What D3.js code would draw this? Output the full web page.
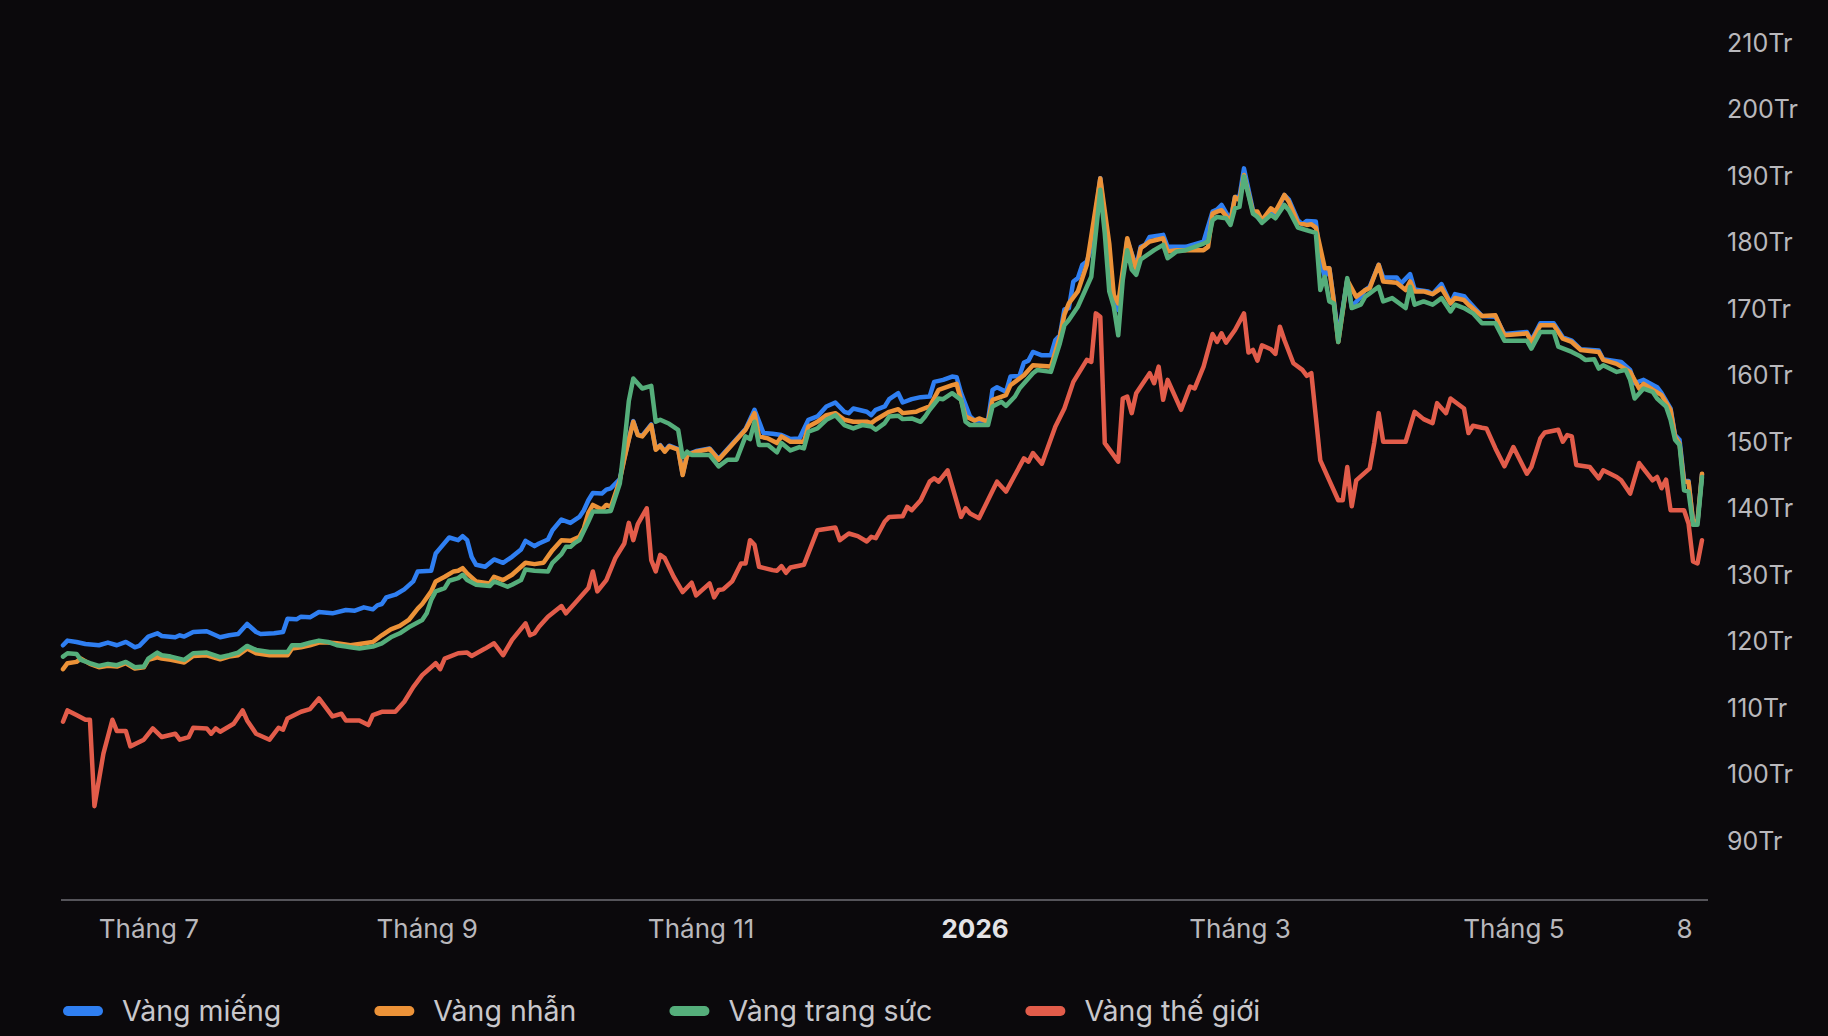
<!DOCTYPE html>
<html>
<head>
<meta charset="utf-8">
<script src="https://cdn.jsdelivr.net/npm/d3@7"></script>
<style>
  html, body { margin: 0; padding: 0; background: #0b090c; }
  svg { display: block; font-family: Inter, "Open Sans", "DejaVu Sans", sans-serif; }
</style>
</head>
<body>
<div id="chart"></div>
<script>
// giá vàng (triệu đồng / lượng)
const vangMieng = [
  ["2025-06-12",119.3],["2025-06-13",120.0],["2025-06-15",119.8],["2025-06-17",119.5],["2025-06-20",119.3],["2025-06-22",119.7],["2025-06-24",119.3],["2025-06-26",119.8],["2025-06-28",119.0],["2025-06-29",119.2],
  ["2025-07-01",120.6],["2025-07-03",121.1],["2025-07-04",120.7],["2025-07-07",120.5],["2025-07-08",120.8],["2025-07-09",120.6],["2025-07-11",121.3],["2025-07-14",121.4],["2025-07-17",120.5],["2025-07-19",120.8],["2025-07-21",121.0],["2025-07-23",122.5],["2025-07-25",121.3],["2025-07-26",121.0],["2025-07-29",121.1],["2025-07-31",121.3],
  ["2025-08-01",123.3],["2025-08-03",123.2],["2025-08-04",123.6],["2025-08-06",123.5],["2025-08-08",124.3],["2025-08-11",124.1],["2025-08-14",124.6],["2025-08-16",124.5],["2025-08-18",125.0],["2025-08-20",124.7],["2025-08-21",125.3],["2025-08-22",125.5],["2025-08-23",126.5],["2025-08-25",126.9],["2025-08-27",127.7],["2025-08-29",128.9],["2025-08-30",130.4],
  ["2025-09-02",130.5],["2025-09-03",133.1],["2025-09-04",133.9],["2025-09-06",135.5],["2025-09-08",135.1],["2025-09-09",135.7],["2025-09-10",135.1],["2025-09-11",132.6],["2025-09-12",131.4],["2025-09-14",131.1],["2025-09-16",132.2],["2025-09-18",131.7],["2025-09-20",132.6],["2025-09-22",133.7],["2025-09-23",135.0],["2025-09-25",134.2],["2025-09-26",134.6],["2025-09-28",135.2],["2025-09-29",136.6],
  ["2025-10-01",138.2],["2025-10-03",137.7],["2025-10-05",138.6],["2025-10-06",139.6],["2025-10-07",141.1],["2025-10-08",142.2],["2025-10-10",142.1],["2025-10-11",142.7],["2025-10-12",142.9],["2025-10-14",144.3],["2025-10-15",147.4],["2025-10-16",150.3],["2025-10-17",153.0],["2025-10-18",151.0],["2025-10-19",150.8],["2025-10-21",152.5],["2025-10-22",148.8],["2025-10-23",149.4],["2025-10-24",148.5],["2025-10-25",149.3],["2025-10-27",148.8],["2025-10-28",145.0],["2025-10-29",148.0],["2025-10-31",148.5],
  ["2025-11-03",148.9],["2025-11-05",147.3],["2025-11-11",151.8],["2025-11-13",154.7],["2025-11-15",151.2],["2025-11-17",151.1],["2025-11-19",150.9],["2025-11-21",150.3],["2025-11-23",150.4],["2025-11-25",153.2],["2025-11-27",153.7],["2025-11-29",155.2],
  ["2025-12-01",155.8],["2025-12-03",154.4],["2025-12-04",154.2],["2025-12-05",154.9],["2025-12-08",154.4],["2025-12-09",153.9],["2025-12-10",154.7],["2025-12-12",155.2],["2025-12-13",156.3],["2025-12-15",157.2],["2025-12-16",155.8],["2025-12-18",156.3],["2025-12-20",156.6],["2025-12-22",156.7],["2025-12-23",158.9],["2025-12-25",159.2],["2025-12-27",159.7],["2025-12-28",159.6],["2025-12-29",157.2],["2025-12-31",153.7],
  ["2026-01-01",153.1],["2026-01-04",153.1],["2026-01-05",157.7],["2026-01-06",158.1],["2026-01-08",157.4],["2026-01-09",159.7],["2026-01-11",159.8],["2026-01-12",161.8],["2026-01-13",162.1],["2026-01-14",163.4],["2026-01-16",162.9],["2026-01-18",162.9],["2026-01-19",165.2],["2026-01-20",165.9],["2026-01-21",169.8],["2026-01-22",170.0],["2026-01-23",174.0],["2026-01-24",174.5],["2026-01-25",176.5],["2026-01-26",177.0],["2026-01-27",179.0],["2026-01-29",189.5],["2026-01-31",176.2],
  ["2026-02-01",171.8],["2026-02-02",169.7],["2026-02-04",180.2],["2026-02-06",176.2],["2026-02-07",179.2],["2026-02-08",179.5],["2026-02-09",180.7],["2026-02-12",181.0],["2026-02-13",179.2],["2026-02-15",179.2],["2026-02-17",179.2],["2026-02-21",180.0],["2026-02-23",184.5],["2026-02-24",184.8],["2026-02-25",185.5],["2026-02-27",183.2],["2026-02-28",186.7],
  ["2026-03-01",186.7],["2026-03-02",191.0],["2026-03-04",184.7],["2026-03-05",183.7],["2026-03-06",183.0],["2026-03-08",184.7],["2026-03-09",184.0],["2026-03-11",187.0],["2026-03-12",186.3],["2026-03-14",183.2],["2026-03-15",182.6],["2026-03-16",183.1],["2026-03-18",183.0],["2026-03-19",177.0],["2026-03-20",174.7],["2026-03-21",176.0],["2026-03-22",171.2],["2026-03-23",165.7],["2026-03-25",174.2],["2026-03-26",170.2],["2026-03-28",171.7],["2026-03-29",172.7],["2026-03-30",173.2],
  ["2026-04-01",176.5],["2026-04-02",174.6],["2026-04-05",174.6],["2026-04-06",173.7],["2026-04-08",175.1],["2026-04-09",172.8],["2026-04-12",172.5],["2026-04-13",172.1],["2026-04-15",173.6],["2026-04-17",170.7],["2026-04-18",172.1],["2026-04-20",171.8],["2026-04-21",171.0],["2026-04-24",168.8],["2026-04-27",168.7],["2026-04-29",166.1],
  ["2026-05-04",166.4],["2026-05-05",165.1],["2026-05-07",167.7],["2026-05-10",167.7],["2026-05-12",165.6],["2026-05-14",165.1],["2026-05-16",163.8],["2026-05-20",163.6],["2026-05-21",162.3],["2026-05-25",161.9],["2026-05-27",160.7],["2026-05-28",158.7],["2026-05-30",159.2],
  ["2026-06-02",158.1],["2026-06-03",157.2],["2026-06-05",154.9],["2026-06-06",150.9],["2026-06-07",150.2],["2026-06-08",144.1],["2026-06-09",144.0],["2026-06-10",137.9],["2026-06-11",137.9],["2026-06-12",145.0]
];

const vangNhan = [
  ["2025-06-12",115.7],["2025-06-13",116.6],["2025-06-15",116.8],["2025-06-16",117.3],["2025-06-18",116.5],["2025-06-20",116.0],["2025-06-22",116.2],["2025-06-24",116.1],["2025-06-26",116.6],["2025-06-28",115.8],["2025-06-30",116.0],
  ["2025-07-01",117.1],["2025-07-03",117.5],["2025-07-04",117.3],["2025-07-06",117.1],["2025-07-09",116.7],["2025-07-11",117.7],["2025-07-14",117.8],["2025-07-17",117.2],["2025-07-19",117.6],["2025-07-21",117.8],["2025-07-23",118.8],["2025-07-25",118.1],["2025-07-28",117.8],
  ["2025-08-01",117.8],["2025-08-02",118.8],["2025-08-04",119.0],["2025-08-06",119.3],["2025-08-08",119.7],["2025-08-10",119.7],["2025-08-12",119.6],["2025-08-15",119.3],["2025-08-17",119.5],["2025-08-20",119.8],["2025-08-22",120.8],["2025-08-24",121.7],["2025-08-26",122.2],["2025-08-28",123.1],["2025-08-30",124.8],["2025-08-31",125.5],
  ["2025-09-02",127.4],["2025-09-03",128.9],["2025-09-05",129.6],["2025-09-07",130.4],["2025-09-08",130.5],["2025-09-09",130.9],["2025-09-10",130.1],["2025-09-12",128.9],["2025-09-15",128.6],["2025-09-16",129.6],["2025-09-18",129.1],["2025-09-20",129.9],["2025-09-22",131.1],["2025-09-23",131.7],["2025-09-25",131.5],["2025-09-27",131.7],["2025-09-29",133.6],
  ["2025-10-01",135.1],["2025-10-03",135.0],["2025-10-05",135.6],["2025-10-06",136.9],["2025-10-07",139.2],["2025-10-08",140.4],["2025-10-10",139.7],["2025-10-11",140.4],["2025-10-12",140.1],["2025-10-14",144.1],["2025-10-15",147.3],["2025-10-16",150.2],["2025-10-17",152.9],["2025-10-18",150.9],["2025-10-19",150.7],["2025-10-21",152.4],["2025-10-22",148.7],["2025-10-23",149.3],["2025-10-24",148.4],["2025-10-25",149.2],["2025-10-27",148.7],["2025-10-28",144.9],["2025-10-29",147.9],["2025-10-31",148.4],
  ["2025-11-03",148.8],["2025-11-05",147.2],["2025-11-11",151.7],["2025-11-13",154.2],["2025-11-14",150.7],["2025-11-16",150.4],["2025-11-18",149.7],["2025-11-19",150.7],["2025-11-21",149.9],["2025-11-24",149.9],["2025-11-25",152.2],["2025-11-27",152.9],["2025-11-29",153.9],
  ["2025-12-01",154.2],["2025-12-03",153.2],["2025-12-05",152.9],["2025-12-08",152.9],["2025-12-09",152.7],["2025-12-10",153.2],["2025-12-13",154.4],["2025-12-15",154.8],["2025-12-16",154.2],["2025-12-19",154.4],["2025-12-20",154.7],["2025-12-22",155.2],["2025-12-24",157.7],["2025-12-27",158.4],["2025-12-28",158.6],["2025-12-30",153.7],
  ["2026-01-01",153.1],["2026-01-02",153.4],["2026-01-04",152.9],["2026-01-05",156.2],["2026-01-08",156.9],["2026-01-09",158.4],["2026-01-12",159.9],["2026-01-14",161.4],["2026-01-18",161.2],["2026-01-20",165.7],["2026-01-21",169.0],["2026-01-22",170.7],["2026-01-24",172.5],["2026-01-26",176.5],["2026-01-29",189.5],["2026-01-31",179.7],
  ["2026-02-01",172.0],["2026-02-02",170.7],["2026-02-04",180.5],["2026-02-06",175.7],["2026-02-07",179.0],["2026-02-09",180.0],["2026-02-12",180.5],["2026-02-13",178.5],["2026-02-15",178.7],["2026-02-21",178.7],["2026-02-22",179.2],["2026-02-23",184.2],["2026-02-24",184.5],["2026-02-25",184.7],["2026-02-27",183.0],["2026-02-28",186.7],
  ["2026-03-01",186.2],["2026-03-02",190.0],["2026-03-04",184.5],["2026-03-05",184.5],["2026-03-06",183.2],["2026-03-08",185.0],["2026-03-09",184.5],["2026-03-11",187.0],["2026-03-12",186.0],["2026-03-14",182.8],["2026-03-16",182.5],["2026-03-17",182.6],["2026-03-18",182.1],["2026-03-20",176.0],["2026-03-21",176.0],["2026-03-22",171.0],["2026-03-23",164.9],["2026-03-25",174.2],["2026-03-27",171.7],["2026-03-29",172.7],["2026-03-30",173.0],
  ["2026-04-01",176.5],["2026-04-02",174.0],["2026-04-05",173.8],["2026-04-07",172.7],["2026-04-08",174.0],["2026-04-09",172.5],["2026-04-11",172.5],["2026-04-13",172.1],["2026-04-15",173.0],["2026-04-17",170.7],["2026-04-18",171.5],["2026-04-20",171.2],["2026-04-21",170.5],["2026-04-24",168.8],["2026-04-27",168.9],["2026-04-29",165.9],
  ["2026-05-04",166.2],["2026-05-05",164.9],["2026-05-07",167.4],["2026-05-10",167.4],["2026-05-12",165.4],["2026-05-14",164.9],["2026-05-16",163.7],["2026-05-20",163.4],["2026-05-21",162.2],["2026-05-24",161.6],["2026-05-27",160.4],["2026-05-29",157.9],["2026-05-30",158.6],
  ["2026-06-03",156.9],["2026-06-05",154.7],["2026-06-06",150.7],["2026-06-07",149.6],["2026-06-08",143.9],["2026-06-09",143.9],["2026-06-10",137.9],["2026-06-11",137.9],["2026-06-12",145.1]
];

const vangTrangSuc = [
  ["2025-06-12",117.6],["2025-06-13",118.1],["2025-06-15",118.0],["2025-06-16",117.1],["2025-06-18",116.6],["2025-06-20",116.2],["2025-06-22",116.5],["2025-06-24",116.3],["2025-06-26",116.8],["2025-06-28",116.0],["2025-06-30",116.1],
  ["2025-07-01",117.3],["2025-07-03",118.2],["2025-07-04",117.8],["2025-07-06",117.6],["2025-07-09",117.1],["2025-07-11",118.1],["2025-07-14",118.2],["2025-07-17",117.5],["2025-07-19",117.8],["2025-07-21",118.2],["2025-07-23",119.2],["2025-07-25",118.6],["2025-07-28",118.3],
  ["2025-08-01",118.3],["2025-08-02",119.3],["2025-08-04",119.3],["2025-08-06",119.7],["2025-08-08",120.0],["2025-08-10",119.8],["2025-08-12",119.3],["2025-08-14",119.1],["2025-08-15",119.0],["2025-08-17",118.8],["2025-08-20",119.1],["2025-08-22",119.6],["2025-08-24",120.5],["2025-08-26",121.1],["2025-08-28",122.0],["2025-08-31",123.1],
  ["2025-09-01",124.1],["2025-09-02",126.1],["2025-09-03",127.4],["2025-09-05",127.9],["2025-09-06",129.0],["2025-09-08",129.4],["2025-09-09",129.9],["2025-09-10",129.1],["2025-09-12",128.4],["2025-09-15",128.2],["2025-09-16",128.9],["2025-09-19",128.1],["2025-09-20",128.4],["2025-09-22",129.1],["2025-09-23",130.7],["2025-09-25",130.5],["2025-09-28",130.4],["2025-09-29",131.7],
  ["2025-10-01",133.0],["2025-10-02",134.1],["2025-10-03",134.1],["2025-10-04",134.7],["2025-10-05",135.1],["2025-10-07",137.9],["2025-10-08",139.4],["2025-10-11",139.4],["2025-10-12",139.5],["2025-10-14",143.6],["2025-10-15",149.5],["2025-10-16",156.0],["2025-10-17",159.4],["2025-10-19",157.9],["2025-10-21",158.3],["2025-10-22",152.9],["2025-10-23",153.2],["2025-10-25",152.6],["2025-10-27",151.7],["2025-10-28",147.6],["2025-10-29",148.4],["2025-10-30",147.9],
  ["2025-11-03",147.9],["2025-11-05",146.2],["2025-11-07",147.2],["2025-11-09",147.2],["2025-11-11",150.7],["2025-11-12",150.3],["2025-11-13",152.9],["2025-11-14",149.4],["2025-11-16",149.4],["2025-11-18",148.3],["2025-11-19",149.7],["2025-11-21",148.6],["2025-11-23",149.1],["2025-11-24",148.9],["2025-11-25",151.4],["2025-11-27",151.9],["2025-11-29",153.2],
  ["2025-12-01",153.9],["2025-12-03",152.4],["2025-12-05",151.9],["2025-12-07",152.4],["2025-12-09",152.2],["2025-12-10",151.7],["2025-12-12",152.7],["2025-12-13",153.7],["2025-12-15",153.8],["2025-12-16",153.3],["2025-12-18",153.4],["2025-12-20",152.9],["2025-12-21",153.7],["2025-12-22",154.7],["2025-12-24",156.4],["2025-12-25",156.3],["2025-12-27",157.2],["2025-12-29",156.2],["2025-12-30",152.9],["2025-12-31",152.4],
  ["2026-01-04",152.4],["2026-01-05",155.2],["2026-01-07",155.9],["2026-01-08",155.3],["2026-01-10",156.7],["2026-01-11",157.9],["2026-01-14",160.2],["2026-01-15",160.7],["2026-01-18",160.4],["2026-01-20",164.7],["2026-01-21",167.4],["2026-01-22",168.2],["2026-01-24",170.2],["2026-01-25",171.7],["2026-01-27",174.7],["2026-01-29",187.8],["2026-01-30",181.2],["2026-01-31",172.5],
  ["2026-02-01",170.2],["2026-02-02",165.9],["2026-02-03",174.2],["2026-02-04",178.7],["2026-02-05",175.8],["2026-02-06",175.0],["2026-02-07",177.3],["2026-02-10",178.7],["2026-02-12",179.5],["2026-02-13",177.5],["2026-02-15",178.5],["2026-02-17",178.7],["2026-02-21",179.7],["2026-02-22",180.0],["2026-02-23",183.2],["2026-02-24",183.7],["2026-02-26",183.5],["2026-02-27",182.5],["2026-02-28",185.0],
  ["2026-03-01",185.2],["2026-03-02",189.8],["2026-03-04",184.2],["2026-03-05",183.7],["2026-03-06",182.8],["2026-03-08",184.0],["2026-03-09",183.5],["2026-03-11",185.5],["2026-03-12",184.7],["2026-03-14",182.1],["2026-03-16",181.7],["2026-03-17",181.5],["2026-03-18",181.3],["2026-03-19",172.7],["2026-03-20",174.7],["2026-03-21",171.0],["2026-03-22",170.7],["2026-03-23",164.9],["2026-03-25",174.5],["2026-03-26",170.0],["2026-03-28",170.5],["2026-03-29",171.7],["2026-03-30",172.2],
  ["2026-04-01",173.2],["2026-04-02",171.0],["2026-04-04",171.5],["2026-04-07",170.0],["2026-04-08",173.2],["2026-04-09",170.5],["2026-04-11",171.0],["2026-04-13",170.5],["2026-04-15",171.5],["2026-04-17",169.5],["2026-04-18",170.5],["2026-04-20",170.0],["2026-04-22",169.2],["2026-04-24",167.7],["2026-04-27",167.7],["2026-04-29",165.1],
  ["2026-05-04",165.1],["2026-05-05",163.9],["2026-05-07",166.4],["2026-05-10",166.4],["2026-05-11",164.2],["2026-05-14",163.4],["2026-05-16",162.7],["2026-05-17",162.2],["2026-05-19",162.3],["2026-05-20",160.9],["2026-05-21",161.4],["2026-05-24",160.4],["2026-05-26",160.7],["2026-05-27",159.2],["2026-05-28",156.4],["2026-05-30",157.9],
  ["2026-06-01",157.4],["2026-06-02",156.4],["2026-06-04",155.2],["2026-06-05",153.2],["2026-06-06",150.2],["2026-06-07",149.4],["2026-06-08",142.6],["2026-06-09",142.4],["2026-06-10",137.4],["2026-06-11",137.4],["2026-06-12",144.6]
];

const vangTheGioi = [
  ["2025-06-12",107.8],["2025-06-13",109.5],["2025-06-15",108.8],["2025-06-17",108.1],["2025-06-18",108.1],["2025-06-19",95.1],["2025-06-21",103.0],["2025-06-23",108.1],["2025-06-24",106.4],["2025-06-26",106.4],["2025-06-27",104.1],["2025-06-30",105.1],
  ["2025-07-02",106.8],["2025-07-04",105.5],["2025-07-07",106.0],["2025-07-08",105.1],["2025-07-10",105.5],["2025-07-11",106.9],["2025-07-14",106.8],["2025-07-15",106.0],["2025-07-16",106.8],["2025-07-17",106.3],["2025-07-20",107.5],["2025-07-22",109.5],["2025-07-23",108.0],["2025-07-25",106.0],["2025-07-28",105.1],["2025-07-30",106.9],["2025-07-31",106.6],
  ["2025-08-01",108.3],["2025-08-04",109.3],["2025-08-06",109.7],["2025-08-08",111.3],["2025-08-11",108.6],["2025-08-13",109.0],["2025-08-14",108.0],["2025-08-17",108.0],["2025-08-19",107.3],["2025-08-20",108.8],["2025-08-22",109.3],["2025-08-25",109.3],["2025-08-27",110.8],["2025-08-29",113.0],["2025-08-31",114.8],
  ["2025-09-03",116.6],["2025-09-04",115.7],["2025-09-05",117.3],["2025-09-08",118.1],["2025-09-10",118.2],["2025-09-11",117.7],["2025-09-14",118.8],["2025-09-16",119.6],["2025-09-18",117.8],["2025-09-20",120.1],["2025-09-23",122.6],["2025-09-24",120.8],["2025-09-25",121.1],["2025-09-26",122.1],["2025-09-28",123.6],
  ["2025-10-01",125.2],["2025-10-02",124.1],["2025-10-04",125.6],["2025-10-07",127.9],["2025-10-08",130.4],["2025-10-09",127.4],["2025-10-11",129.1],["2025-10-13",132.4],["2025-10-15",134.6],["2025-10-16",137.7],["2025-10-17",135.1],["2025-10-18",137.5],["2025-10-20",139.9],["2025-10-21",132.1],["2025-10-22",130.4],["2025-10-23",132.9],["2025-10-24",132.4],["2025-10-26",129.6],["2025-10-28",127.3],["2025-10-30",128.7],["2025-10-31",126.8],
  ["2025-11-03",128.6],["2025-11-04",126.5],["2025-11-05",127.6],["2025-11-06",127.7],["2025-11-08",128.9],["2025-11-10",131.6],["2025-11-11",131.6],["2025-11-12",135.1],["2025-11-13",134.4],["2025-11-14",131.1],["2025-11-17",130.6],["2025-11-18",130.5],["2025-11-19",131.2],["2025-11-20",130.2],["2025-11-21",131.0],["2025-11-24",131.4],["2025-11-27",136.6],
  ["2025-12-01",137.0],["2025-12-02",135.1],["2025-12-04",136.1],["2025-12-06",135.7],["2025-12-08",134.9],["2025-12-09",135.6],["2025-12-10",135.4],["2025-12-12",137.9],["2025-12-13",138.6],["2025-12-16",138.7],["2025-12-17",140.1],["2025-12-18",139.6],["2025-12-20",141.1],["2025-12-22",143.9],["2025-12-23",144.4],["2025-12-24",143.9],["2025-12-26",145.6],["2025-12-29",138.6],["2025-12-30",139.9],["2025-12-31",139.1],
  ["2026-01-02",138.4],["2026-01-06",143.9],["2026-01-08",142.4],["2026-01-12",147.4],["2026-01-13",146.9],["2026-01-14",148.2],["2026-01-16",146.6],["2026-01-19",152.2],["2026-01-21",154.9],["2026-01-22",156.9],["2026-01-23",158.9],["2026-01-26",162.2],["2026-01-27",161.9],["2026-01-28",169.2],["2026-01-29",168.7],["2026-01-30",149.7],
  ["2026-02-02",146.9],["2026-02-03",156.4],["2026-02-04",156.7],["2026-02-05",154.2],["2026-02-06",157.2],["2026-02-09",160.2],["2026-02-10",158.7],["2026-02-11",161.2],["2026-02-12",156.2],["2026-02-13",159.2],["2026-02-16",154.7],["2026-02-18",158.2],["2026-02-19",157.9],["2026-02-21",161.2],["2026-02-23",166.1],["2026-02-24",164.9],["2026-02-25",166.2],["2026-02-26",164.8],["2026-02-28",166.7],
  ["2026-03-02",169.2],["2026-03-03",163.3],["2026-03-04",163.7],["2026-03-05",162.1],["2026-03-06",164.4],["2026-03-08",163.8],["2026-03-09",163.1],["2026-03-10",167.2],["2026-03-11",165.2],["2026-03-13",161.7],["2026-03-15",160.7],["2026-03-16",159.8],["2026-03-17",160.2],["2026-03-19",147.1],["2026-03-21",144.1],["2026-03-23",141.1],["2026-03-24",141.1],["2026-03-25",146.1],["2026-03-26",140.2],["2026-03-27",144.1],["2026-03-30",145.9],["2026-03-31",149.7],
  ["2026-04-01",154.2],["2026-04-02",149.9],["2026-04-07",149.9],["2026-04-09",154.4],["2026-04-11",153.3],["2026-04-13",152.7],["2026-04-14",155.7],["2026-04-16",154.2],["2026-04-17",156.4],["2026-04-20",154.9],["2026-04-21",151.2],["2026-04-22",152.3],["2026-04-24",152.0],["2026-04-25",151.9],["2026-04-27",148.9],["2026-04-29",146.2],
  ["2026-05-01",149.1],["2026-05-04",145.1],["2026-05-05",146.1],["2026-05-07",150.4],["2026-05-08",151.3],["2026-05-11",151.7],["2026-05-12",149.9],["2026-05-13",150.9],["2026-05-14",150.7],["2026-05-15",146.4],["2026-05-18",146.1],["2026-05-20",144.4],["2026-05-21",145.6],["2026-05-24",144.6],["2026-05-25",144.1],["2026-05-27",142.1],["2026-05-29",146.7],
  ["2026-06-01",144.1],["2026-06-02",144.6],["2026-06-03",142.9],["2026-06-04",144.2],["2026-06-05",139.6],["2026-06-08",139.6],["2026-06-09",137.6],["2026-06-10",131.9],["2026-06-11",131.6],["2026-06-12",135.1]
];

const seriesNames = ["Vàng miếng", "Vàng nhẫn", "Vàng trang sức", "Vàng thế giới"];
const seriesColors = ["#2f7ff2", "#ec9238", "#55ae7b", "#e25c4a"];
const yTicks = [90, 100, 110, 120, 130, 140, 150, 160, 170, 180, 190, 200, 210];
const xTickDates = ["2025-07-01", "2025-09-01", "2025-11-01", "2026-01-01", "2026-03-01", "2026-05-01", "2026-06-08"];
const xTickLabels = ["Tháng 7", "Tháng 9", "Tháng 11", "2026", "Tháng 3", "Tháng 5", "8"];

const width = 1828, height = 1036;
const parse = d3.timeParse("%Y-%m-%d");

const series = [vangMieng, vangNhan, vangTrangSuc, vangTheGioi].map((arr, i) => ({
  name: seriesNames[i],
  color: seriesColors[i],
  values: arr.map(d => ({ date: parse(d[0]), value: d[1] }))
}));

const svg = d3.select("#chart")
  .append("svg")
  .attr("width", width)
  .attr("height", height);

svg.append("rect")
  .attr("width", width)
  .attr("height", height)
  .attr("fill", "#0b090c");

const x = d3.scaleTime()
  .domain([parse("2025-06-12"), parse("2026-06-12")])
  .range([63, 1702]);

const y = d3.scaleLinear()
  .domain([81, 210])
  .range([900, 42]);

// trục y bên phải
const yAxis = svg.append("g")
  .attr("transform", "translate(1727,0)")
  .call(d3.axisRight(y).tickValues(yTicks).tickSize(0).tickPadding(0).tickFormat(d => d + "Tr"));
yAxis.select(".domain").remove();
yAxis.selectAll("text")
  .attr("x", 0)
  .attr("dy", "0.36em")
  .style("font-family", "Inter, sans-serif")
  .style("font-size", "25px")
  .style("fill", "#b9b8bc");

// trục x
svg.append("line")
  .attr("x1", 61).attr("x2", 1708)
  .attr("y1", 900).attr("y2", 900)
  .attr("stroke", "#55545a")
  .attr("stroke-width", 2);

const xAxis = svg.append("g")
  .attr("transform", "translate(0,900)")
  .call(d3.axisBottom(x)
    .tickValues(xTickDates.map(parse))
    .tickSize(0)
    .tickFormat((d, i) => xTickLabels[i]));
xAxis.select(".domain").remove();
xAxis.selectAll("text")
  .attr("y", 38)
  .attr("dy", null)
  .style("font-family", "Inter, sans-serif")
  .style("font-size", "26px")
  .style("fill", (d, i) => xTickLabels[i] === "2026" ? "#e4e3e6" : "#b9b8bc")
  .style("font-weight", (d, i) => xTickLabels[i] === "2026" ? "700" : "400");

// các đường
const line = d3.line()
  .x(d => x(d.date))
  .y(d => y(d.value));

svg.append("g")
  .selectAll("path")
  .data(series)
  .join("path")
  .attr("d", d => line(d.values))
  .attr("fill", "none")
  .attr("stroke", d => d.color)
  .attr("stroke-width", 4.5)
  .attr("stroke-linejoin", "round")
  .attr("stroke-linecap", "round");

// chú thích
const legend = svg.append("g").attr("transform", "translate(63,1011)");
let lx = 0;
series.forEach(s => {
  const item = legend.append("g").attr("transform", `translate(${lx},0)`);
  item.append("rect")
    .attr("x", 0).attr("y", -5)
    .attr("width", 40).attr("height", 10)
    .attr("rx", 5)
    .attr("fill", s.color);
  const t = item.append("text")
    .attr("x", 59)
    .attr("dy", "0.36em")
    .style("font-family", "Inter, sans-serif")
    .style("font-size", "28.5px")
    .style("fill", "#c8c7cb")
    .text(s.name);
  lx += 59 + t.node().getComputedTextLength() + 93;
});
</script>
</body>
</html>
